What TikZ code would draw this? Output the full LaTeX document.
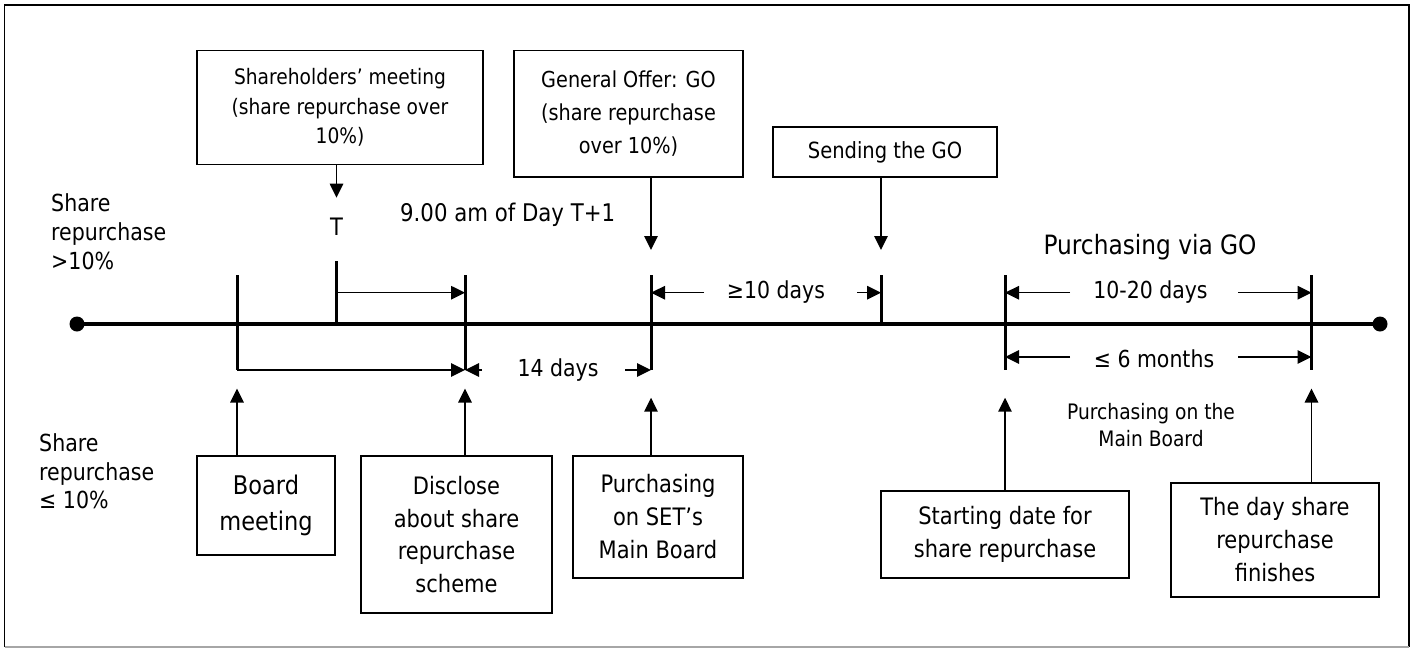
\documentclass[tikz,border=0pt]{standalone}
\usepackage{fontspec}
\setmainfont{DejaVu Sans}[FakeStretch=0.875]
\usetikzlibrary{arrows.meta}
\begin{document}
\begin{tikzpicture}[x=1pt,y=-1pt,
  box/.style={draw, line width=1.6pt, inner sep=0pt, align=center},
  tickline/.style={line width=3pt},
  arr/.style={line width=1.5pt, -{Triangle[length=14pt,width=13.5pt]}},
  dim/.style={inner sep=0pt, font=\fontsize{23.4}{28}\selectfont},
  dot/.style={circle, fill, inner sep=0pt, minimum size=15pt}]
\useasboundingbox (0,0) rectangle (1415,651);
% frame
\draw[line width=1.8pt] (4.5,647) -- (4.5,5) -- (1409,5) -- (1409,647);
\draw[line width=1.8pt, black!35] (4.5,647) -- (1409,647);

% rows and tick positions
\coordinate (T) at (336.5,324);
\coordinate (B) at (237,324);
\coordinate (D) at (465,324);
\coordinate (G) at (651,324);
\coordinate (S) at (881,324);
\coordinate (P) at (1005,324);
\coordinate (F) at (1311.5,324);
\coordinate (rTop) at (0,292.7);
\coordinate (rMon) at (0,357);
\coordinate (rDay) at (0,370);
\coordinate (rTick) at (0,275);
\coordinate (rT) at (0,261);
\coordinate (rUp) at (0,388.6);
\coordinate (rUpb) at (0,397.7);
\coordinate (rDn) at (0,250);
\coordinate (rSh) at (0,197.6);

% timeline
\node[dot] (dl) at (77,324) {};
\node[dot] (dr) at (1380,324) {};
\draw[line width=4.5pt] (dl.center) -- (dr.center);

% ticks
\draw[tickline] (B |- rTick) -- (B |- rDay);
\draw[tickline] (T |- rT) -- (T);
\draw[tickline] (D |- rTick) -- (D |- rDay);
\draw[tickline] (G |- rTick) -- (G |- rDay);
\draw[tickline] (S |- rTick) -- (S);
\draw[tickline] (P |- rTick) -- (P |- rDay);
\draw[tickline] (F |- rTick) -- (F |- rDay);

% top boxes
\node[box, minimum width=286pt, minimum height=114pt,
      font=\fontsize{21.3}{29.5}\selectfont] (sh) at (340,107.5)
      {Shareholders’ meeting\\(share repurchase over\\10\%)};
\node[box, minimum width=229pt, minimum height=126.5pt,
      font=\fontsize{22}{33}\selectfont] (go) at (628.5,113.7)
      {General Offer: GO\\(share repurchase\\over 10\%)};
\node[box, minimum width=224pt, minimum height=50pt,
      font=\fontsize{22.3}{26}\selectfont] (send) at (885,152)
      {Sending the GO};

% bottom boxes
\node[box, minimum width=138pt, minimum height=99pt,
      font=\fontsize{25.7}{36}\selectfont] (board) at (266,505.5)
      {Board\\meeting};
\node[box, minimum width=191pt, minimum height=157pt,
      font=\fontsize{24}{32.5}\selectfont] (disc) at (456.5,534.5)
      {Disclose\\about share\\repurchase\\scheme};
\node[box, minimum width=170pt, minimum height=122pt,
      font=\fontsize{24}{33}\selectfont] (set) at (658,517)
      {Purchasing\\on SET’s\\Main Board};
\node[box, minimum width=248pt, minimum height=87pt,
      font=\fontsize{24}{33}\selectfont] (start) at (1005,534.5)
      {Starting date for\\share repurchase};
\node[box, minimum width=208pt, minimum height=114pt,
      font=\fontsize{24}{33}\selectfont] (fin) at (1275,540)
      {The day share\\repurchase\\finishes};

% left labels
\node[inner sep=0pt, align=left, anchor=west,
      font=\fontsize{23.5}{29}\selectfont] (lab1) at (51,231.5)
      {Share\\repurchase\\>10\%};
\node[inner sep=0pt, align=left, anchor=west,
      font=\fontsize{23.5}{28.5}\selectfont] (lab2) at (39,471.5)
      {Share\\repurchase\\≤ 10\%};

% timeline texts
\node[dim, font=\fontsize{24}{28}\selectfont] (tl) at (336.5,226.6) {T};
\node[dim, anchor=west, font=\fontsize{24.3}{28}\selectfont] (nine) at (400,215) {9.00 am of Day T+1};
\node[dim] (ge) at (776,292) {≥10 days};
\node[dim, font=\fontsize{26.6}{31}\selectfont] (via) at (1150,247) {Purchasing via GO};
\node[dim] (d1020) at (1150.5,292) {10-20 days};
\node[dim] (mon) at (1154,359) {≤ 6 months};
\node[dim] (d14) at (558,370) {14 days};
\node[inner sep=0pt, align=center, font=\fontsize{21.3}{27.7}\selectfont] (main) at (1151,425)
      {Purchasing on the\\Main Board};

% dimension arrows
\coordinate (c14a) at (482,370);
\coordinate (c14b) at (625,370);
\coordinate (c10a) at (704,292.7);
\coordinate (c10b) at (857,292.7);
\coordinate (c20a) at (1070,292.7);
\coordinate (c20b) at (1238,292.7);
\coordinate (c6a) at (1070,357);
\coordinate (c6b) at (1238,357);
\draw[arr] (T |- rTop) -- (D |- rTop);
\draw[arr] (B |- rDay) -- (D |- rDay);
\draw[arr] (c14a) -- (D |- rDay);
\draw[arr] (c14b) -- (G |- rDay);
\draw[arr] (c10a) -- (G |- rTop);
\draw[arr] (c10b) -- (S |- rTop);
\draw[arr] (c20a) -- (P |- rTop);
\draw[arr] (c20b) -- (F |- rTop);
\draw[arr] (c6a) -- (P |- rMon);
\draw[arr] (c6b) -- (F |- rMon);

% box arrows
\draw[arr] (sh.south -| T) -- (T |- rSh);
\draw[arr] (go.south -| G) -- (G |- rDn);
\draw[arr] (send.south -| S) -- (S |- rDn);
\draw[arr] (board.north -| B) -- (B |- rUp);
\draw[arr] (disc.north -| D) -- (D |- rUp);
\draw[arr] (set.north -| G) -- (G |- rUpb);
\draw[arr] (start.north -| P) -- (P |- rUpb);
\draw[arr] (fin.north -| F) -- (F |- rUp);
\end{tikzpicture}
\end{document}
